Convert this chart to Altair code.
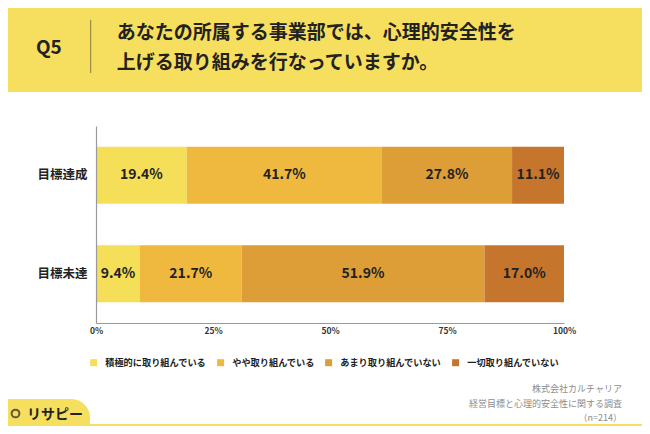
import altair as alt
import pandas as pd

# ---- data ----
categories = ["目標達成", "目標未達"]
series = ["積極的に取り組んでいる", "やや取り組んでいる", "あまり取り組んでいない", "一切取り組んでいない"]
values_achieved = [19.4, 41.7, 27.8, 11.1]
values_missed = [9.4, 21.7, 51.9, 17.0]
colors = ["#F5DE58", "#EFB940", "#DD9D37", "#C6762C"]
x_ticks = [0, 25, 50, 75, 100]
q_label = "Q5"
title_lines = ["あなたの所属する事業部では、心理的安全性を", "上げる取り組みを行なっていますか。"]
footer_lines = ["株式会社カルチャリア", "経営目標と心理的安全性に関する調査", "（n=214）"]
logo_text = "リサピー"

rows = []
for cat, vals in zip(categories, [values_achieved, values_missed]):
    for i, (s, v) in enumerate(zip(series, vals)):
        rows.append({"category": cat, "series": s, "order": i, "value": v})
df = pd.DataFrame(rows)

FONT = "Noto Sans CJK JP"
BG = "#F6DF5E"
W, H = 468, 197

base = alt.Chart(df).transform_stack(
    stack="value", groupby=["category"], as_=["x0", "x1"],
    sort=[alt.SortField("order", order="ascending")]
).transform_calculate(
    mid="(datum.x0 + datum.x1) / 2",
    label="format(datum.value, '.1f') + '%'"
)

xscale = alt.Scale(domain=[0, 100], nice=False, zero=True)
yscale = alt.Scale(domain=categories, paddingInner=0.42, paddingOuter=0.21)

bars = base.mark_bar(stroke=None).encode(
    x=alt.X("x0:Q", scale=xscale,
            axis=alt.Axis(values=x_ticks, labelExpr="datum.value + '%'", title=None,
                          grid=False, ticks=False, domainColor="#9a9a9a", domainWidth=1.2,
                          labelFont=FONT, labelFontSize=8.5, labelFontWeight="bold",
                          labelColor="#333333", labelPadding=3, labelFlush=False, zindex=2)),
    x2="x1:Q",
    y=alt.Y("category:N", scale=yscale, sort=categories,
            axis=alt.Axis(title=None, ticks=False, domainColor="#9a9a9a", domainWidth=1.2,
                          labelFont=FONT, labelFontSize=12.5, labelFontWeight="bold",
                          labelColor="#222222", labelPadding=9, zindex=2)),
    color=alt.Color("series:N", scale=alt.Scale(domain=series, range=colors),
                    sort=series,
                    legend=alt.Legend(title=None, orient="none", direction="horizontal",
                                      legendX=-7, legendY=232, symbolType="square",
                                      symbolSize=49, symbolStrokeWidth=0,
                                      labelFont=FONT, labelFontSize=9.2, labelFontWeight="bold",
                                      labelColor="#222222", labelOffset=7, columnPadding=9,
                                      padding=0)),
    order=alt.Order("order:Q"),
)

texts = base.mark_text(font=FONT, fontSize=14, fontWeight="bold", color="#222222",
                       baseline="middle", align="center").encode(
    x=alt.X("mid:Q", scale=xscale),
    y=alt.Y("category:N", scale=yscale, sort=categories),
    text="label:N",
)

one = alt.Data(values=[{"a": 1}])

panel = alt.Chart(one).mark_rect(fill="white").encode(
    x=alt.value(-88), x2=alt.value(546), y=alt.value(-34), y2=alt.value(298))

tab = alt.Chart(one).mark_rect(fill=BG, cornerRadiusTopRight=22).encode(
    x=alt.value(-100), x2=alt.value(-6), y=alt.value(273), y2=alt.value(310))

divider = alt.Chart(one).mark_rule(color="#857a3c", strokeWidth=1).encode(
    x=alt.value(-5.3), y=alt.value(-106), y2=alt.value(-53))

q = alt.Chart(one).mark_text(font=FONT, fontSize=19, fontWeight="bold", color="#222222",
                             align="center", baseline="middle").encode(
    x=alt.value(-47.2), y=alt.value(-77.7), text=alt.value(q_label))

t1 = alt.Chart(one).mark_text(font=FONT, fontSize=19, fontWeight="bold", color="#222222",
                              align="left", baseline="middle").encode(
    x=alt.value(20.7), y=alt.value(-92.7), text=alt.value(title_lines[0]))
t2 = alt.Chart(one).mark_text(font=FONT, fontSize=19, fontWeight="bold", color="#222222",
                              align="left", baseline="middle").encode(
    x=alt.value(20.7), y=alt.value(-62.7), text=alt.value(title_lines[1]))

foot = []
for txt, yy in zip(footer_lines, [263, 277.5, 292]):
    foot.append(alt.Chart(one).mark_text(font=FONT, fontSize=9, color="#8c8c8c",
                                         align="right", baseline="middle").encode(
        x=alt.value(526), y=alt.value(yy), text=alt.value(txt)))

icon = alt.Chart(one).mark_point(shape="circle", size=60, filled=False, stroke="#222222",
                                 strokeWidth=2).encode(
    x=alt.value(-80.5), y=alt.value(287.5))
logo = alt.Chart(one).mark_text(font=FONT, fontSize=14, fontWeight="bold", color="#222222",
                                align="left", baseline="middle").encode(
    x=alt.value(-69), y=alt.value(289), text=alt.value(logo_text))

chart = alt.layer(panel, tab, bars, texts, divider, q, t1, t2, *foot, icon, logo).properties(
    width=W, height=H,
    autosize=alt.AutoSizeParams(type="none"),
    padding={"left": 88, "top": 118, "right": 78, "bottom": 103},
    background=BG,
).configure_view(stroke=None)

chart.save("out.html", embed_options={"renderer": "svg", "actions": False})
